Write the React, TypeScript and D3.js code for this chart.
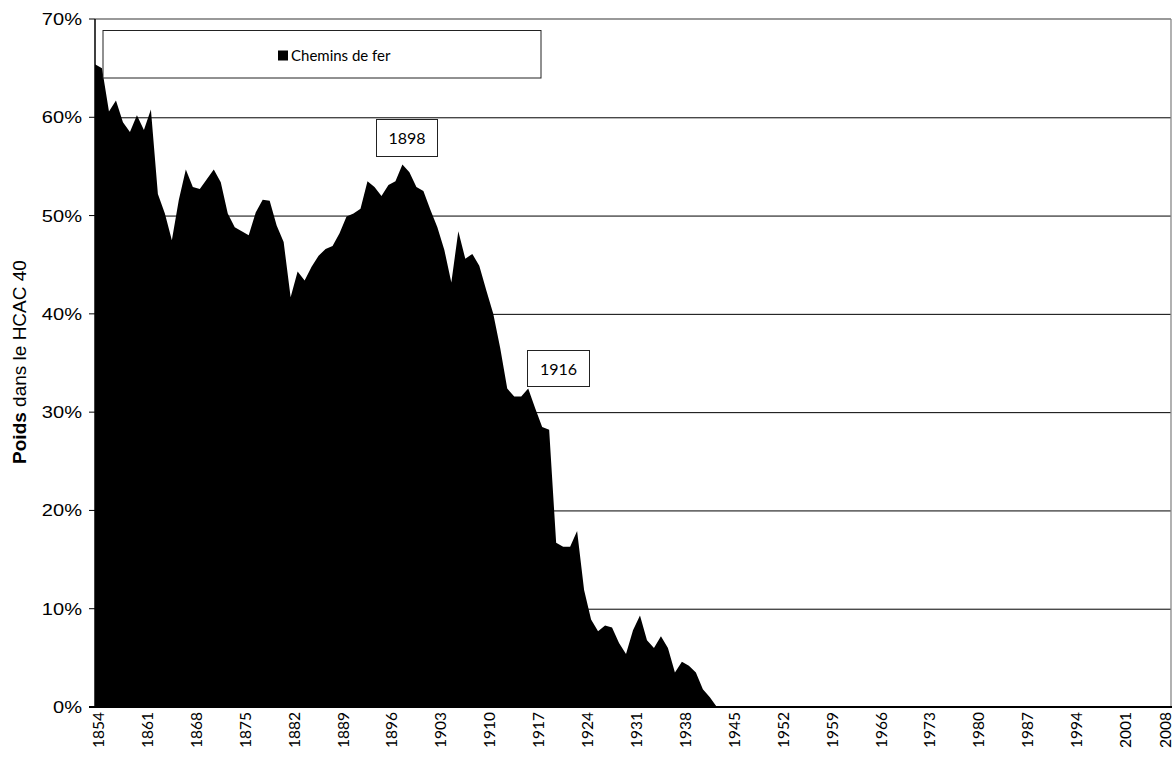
import React from "react";
import * as d3 from "d3";

const START_YEAR = 1854;
const END_YEAR = 2008;
const values: number[] = [
  65.4, 65.0, 60.6, 61.7, 59.5, 58.5, 60.2, 58.7, 60.8, 52.2,
  50.2, 47.5, 51.6, 54.7, 52.9, 52.7, 53.7, 54.7, 53.4, 50.2,
  48.8, 48.4, 48.0, 50.3, 51.6, 51.5, 49.0, 47.3, 41.7, 44.3,
  43.4, 44.8, 45.9, 46.6, 46.9, 48.2, 49.9, 50.2, 50.7, 53.5,
  52.9, 52.0, 53.1, 53.5, 55.2, 54.4, 52.9, 52.5, 50.6, 48.8,
  46.5, 43.2, 48.4, 45.6, 46.1, 44.9, 42.4, 40.0, 36.5, 32.4,
  31.6, 31.6, 32.4, 30.4, 28.5, 28.2, 16.7, 16.3, 16.3, 17.9,
  11.9, 8.9, 7.7, 8.3, 8.1, 6.5, 5.4, 7.8, 9.3, 6.8,
  6.0, 7.2, 6.0, 3.5, 4.6, 4.2, 3.5, 1.8, 1.0, 0.0,
  0, 0, 0, 0, 0, 0, 0, 0, 0, 0,
  0, 0, 0, 0, 0, 0, 0, 0, 0, 0,
  0, 0, 0, 0, 0, 0, 0, 0, 0, 0,
  0, 0, 0, 0, 0, 0, 0, 0, 0, 0,
  0, 0, 0, 0, 0, 0, 0, 0, 0, 0,
  0, 0, 0, 0, 0, 0, 0, 0, 0, 0,
  0, 0, 0, 0, 0,
];
const years: number[] = values.map((_, i) => START_YEAR + i);
const xTickYears: number[] = [1854, 1861, 1868, 1875, 1882, 1889, 1896, 1903, 1910, 1917, 1924, 1931, 1938, 1945, 1952, 1959, 1966, 1973, 1980, 1987, 1994, 2001, 2008];
const yTicks: number[] = [0, 10, 20, 30, 40, 50, 60, 70];
const seriesName = "Chemins de fer";
const annotations: { year: number; label: string }[] = [
  { year: 1898, label: "1898" },
  { year: 1916, label: "1916" },
];

const W = 1176;
const H = 760;
const L = 95, R = 1171, T = 19, B = 707;
const calibri = "Lato, 'Open Sans', sans-serif";
const arial = "'Liberation Sans', Arial, sans-serif";

export default function App() {
  const x = d3.scaleLinear().domain([START_YEAR, END_YEAR]).range([L, R]);
  const y = d3.scaleLinear().domain([0, 70]).range([B, T]);
  const area = d3
    .area<number>()
    .x((_, i) => x(years[i]))
    .y0(y(0))
    .y1((d) => y(d));
  const pathD = area(values) || "";

  const annBoxes = [
    { x0: 376, y0: 119, w: 61, h: 37 },
    { x0: 527, y0: 350, w: 62, h: 36 },
  ];

  return (
    <svg width={W} height={H} style={{ position: "absolute", left: 0, top: 0 }}>
      <rect x={0} y={0} width={W} height={H} fill="#fff" />
      {yTicks.filter((t) => t > 0 && t < 70).map((t) => (
        <line key={t} x1={L} x2={R} y1={y(t) + 0.5} y2={y(t) + 0.5} stroke="#000" strokeWidth={1} />
      ))}
      <line x1={L} x2={R} y1={T} y2={T} stroke="#777" strokeWidth={1.7} />
      <line x1={R} x2={R} y1={T} y2={B} stroke="#888" strokeWidth={1.3} />
      <path d={pathD} fill="#000" stroke="none" />
      <line x1={L} x2={L} y1={T} y2={B} stroke="#000" strokeWidth={1.5} />
      <line x1={L - 6} x2={R + 1} y1={B} y2={B} stroke="#000" strokeWidth={2} />
      {yTicks.map((t) => (
        <g key={t}>
          <line x1={L - 6} x2={L} y1={y(t)} y2={y(t)} stroke="#000" strokeWidth={1} />
          <text
            transform={`translate(82,${y(t)}) scale(1.18,1)`}
            dy="0.35em"
            textAnchor="end"
            fontFamily={arial}
            fontSize={17}
            fill="#000"
          >
            {t}%
          </text>
        </g>
      ))}
      {xTickYears.map((yr) => (
        <text
          key={yr}
          transform={`translate(${Math.min(x(yr) + 9, 1171)},${712}) rotate(-90)`}
          textAnchor="end"
          fontFamily={calibri}
          fontSize={15.5}
          fill="#000"
        >
          {yr}
        </text>
      ))}
      <text transform={`translate(26,362) rotate(-90)`} textAnchor="middle" fontFamily={arial} fontSize={19} fill="#000">
        <tspan fontWeight="bold">Poids</tspan>
        <tspan> dans le HCAC 40</tspan>
      </text>
      <rect x={103} y={30.5} width={438} height={47.5} fill="#fff" stroke="#222" strokeWidth={1} />
      <rect x={278} y={50.5} width={10} height={10} fill="#000" />
      <text x={291} y={61} fontFamily={calibri} fontSize={15} fill="#000">{seriesName}</text>
      {annotations.map((a, i) => {
        const b = annBoxes[i];
        return (
          <g key={a.label}>
            <rect x={b.x0 + 0.5} y={b.y0 + 0.5} width={b.w} height={b.h} fill="#fff" stroke="#222" strokeWidth={1} />
            <text x={b.x0 + b.w / 2 + 0.5} y={b.y0 + b.h / 2 + 1} dy="0.35em" textAnchor="middle" fontFamily={calibri} fontSize={16} fill="#000">
              {a.label}
            </text>
          </g>
        );
      })}
    </svg>
  );
}
